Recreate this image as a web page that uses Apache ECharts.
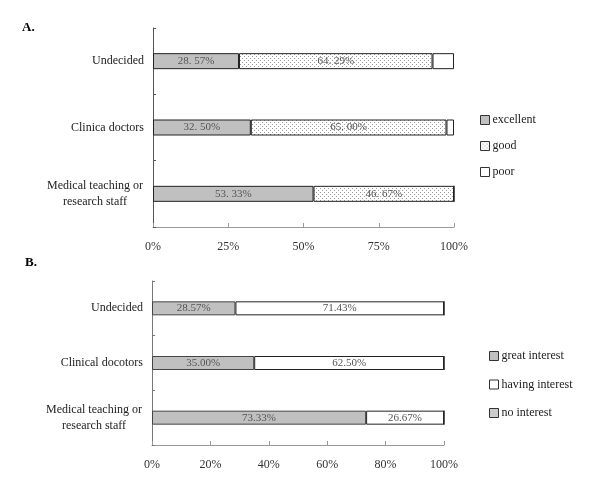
<!DOCTYPE html>
<html><head><meta charset="utf-8">
<script src="https://cdn.jsdelivr.net/npm/echarts@6/dist/echarts.min.js"></script>
<style>html,body{margin:0;padding:0;background:#fff}#c{width:600px;height:488px}</style>
</head><body><div id="c"></div>
<script>
// ---- Data ----
const categoriesA = ['Undecided', 'Clinica doctors', 'Medical teaching or\nresearch staff'];
const excellentA = [28.57, 32.50, 53.33];
const goodA = [64.29, 65.00, 46.67];
const poorA = [7.14, 2.50, 0];
const ticksA = ['0%', '25%', '50%', '75%', '100%'];

const categoriesB = ['Undecided', 'Clinical docotors', 'Medical teaching or\nresearch staff'];
const greatB = [28.57, 35.00, 73.33];
const havingB = [71.43, 65.00, 26.67];   // bar extents as drawn
const havingLabelsB = ['71.43%', '62.50%', '26.67%']; // labels printed in figure
const noneB = [0, 0, 0];
const ticksB = ['0%', '20%', '40%', '60%', '80%', '100%'];

function fmtA(v) { // "28. 57%" style
  const s = v.toFixed(2).split('.');
  return s[0] + '. ' + s[1] + '%';
}
function makePattern(dots, fg, size) {
  const c = document.createElement('canvas');
  c.width = size; c.height = size;
  const g = c.getContext('2d');
  g.fillStyle = '#fff'; g.fillRect(0, 0, size, size);
  g.fillStyle = fg;
  dots.forEach(d => g.fillRect(d[0], d[1], 1, 1));
  return { image: c, repeat: 'repeat' };
}
const goodPattern = makePattern([[0,0],[2,2]], '#9a9a9a', 4);
const nonePattern = makePattern([[0,0],[1,1],[2,0],[0,2],[2,2],[3,1],[1,3],[3,3]], '#9a9a9a', 4);

const FONT = '"Liberation Serif", "Times New Roman", serif';
const catLabel = {
  fontFamily: FONT, fontSize: 12, color: '#222', margin: 9, lineHeight: 16,
  formatter: function (v) {
    if (v.indexOf('\n') >= 0) {
      return v.split('\n').map(l => '{c|' + l + '}').join('\n');
    }
    return v;
  },
  rich: { c: { width: 98, align: 'center', fontFamily: FONT, fontSize: 12, color: '#222', lineHeight: 16 } }
};
const barBorder = { borderColor: '#222', borderWidth: 1 };
const lblStyle = { fontFamily: FONT, fontSize: 11, color: '#555' };
const legendText = { fontFamily: FONT, fontSize: 12, color: '#222', padding: [0, 0, 0, -2] };

const chart = echarts.init(document.getElementById('c'), null, { renderer: 'canvas' });
chart.setOption({
  animation: false,
  backgroundColor: '#fff',
  title: [
    { text: 'A.', left: 17, top: 16, textStyle: { fontFamily: FONT, fontSize: 13, fontWeight: 'bold', color: '#000' } },
    { text: 'B.', left: 20, top: 251, textStyle: { fontFamily: FONT, fontSize: 13, fontWeight: 'bold', color: '#000' } }
  ],
  grid: [
    { left: 153, top: 28, width: 301, height: 199 },
    { left: 152, top: 281, width: 292, height: 164 }
  ],
  legend: [
    { data: ['excellent', 'good', 'poor'], orient: 'vertical', left: 475, top: 109,
      icon: 'rect', itemWidth: 9, itemHeight: 9, itemGap: 14,
      itemStyle: { borderWidth: 1, borderColor: '#333' },
      textStyle: legendText },
    { data: ['great interest', 'having interest', 'no interest'], orient: 'vertical', left: 484, top: 345,
      icon: 'rect', itemWidth: 9, itemHeight: 9, itemGap: 16.5,
      itemStyle: { borderWidth: 1, borderColor: '#333' },
      textStyle: legendText }
  ],
  xAxis: [
    { gridIndex: 0, type: 'value', min: 0, max: 100, interval: 25,
      axisLine: { show: true, lineStyle: { color: '#999' } },
      axisTick: { show: true, inside: true, length: 4, lineStyle: { color: '#999' } },
      splitLine: { show: false },
      axisLabel: { fontFamily: FONT, fontSize: 12, color: '#333', margin: 14,
        formatter: function (v) { return ticksA[Math.round(v / 25)]; } } },
    { gridIndex: 1, type: 'value', min: 0, max: 100, interval: 20,
      axisLine: { show: true, lineStyle: { color: '#999' } },
      axisTick: { show: true, inside: true, length: 4, lineStyle: { color: '#999' } },
      splitLine: { show: false },
      axisLabel: { fontFamily: FONT, fontSize: 12, color: '#333', margin: 14,
        formatter: function (v) { return ticksB[Math.round(v / 20)]; } } }
  ],
  yAxis: [
    { gridIndex: 0, type: 'category', data: categoriesA, inverse: true,
      axisLine: { show: true, lineStyle: { color: '#555' } },
      axisTick: { show: true, inside: true, length: 3, lineStyle: { color: '#555' } },
      axisLabel: catLabel },
    { gridIndex: 1, type: 'category', data: categoriesB, inverse: true,
      axisLine: { show: true, lineStyle: { color: '#777' } },
      axisTick: { show: true, inside: true, length: 3, lineStyle: { color: '#777' } },
      axisLabel: catLabel }
  ],
  series: [
    { name: 'excellent', type: 'bar', stack: 'A', xAxisIndex: 0, yAxisIndex: 0, barWidth: 16,
      data: excellentA, itemStyle: Object.assign({ color: '#c0c0c0' }, barBorder),
      label: Object.assign({ show: true, position: 'inside', formatter: p => p.value > 0 ? fmtA(p.value) : '' }, lblStyle) },
    { name: 'good', type: 'bar', stack: 'A', xAxisIndex: 0, yAxisIndex: 0, barWidth: 16,
      data: goodA, itemStyle: Object.assign({ color: goodPattern }, barBorder),
      label: Object.assign({ show: true, position: 'inside', formatter: p => p.value > 0 ? fmtA(p.value) : '' }, lblStyle) },
    { name: 'poor', type: 'bar', stack: 'A', xAxisIndex: 0, yAxisIndex: 0, barWidth: 16,
      data: poorA, itemStyle: Object.assign({ color: '#fff' }, barBorder) },
    { name: 'great interest', type: 'bar', stack: 'B', xAxisIndex: 1, yAxisIndex: 1, barWidth: 14,
      data: greatB, itemStyle: Object.assign({ color: '#c0c0c0' }, barBorder, { borderColor: '#444' }),
      label: Object.assign({ show: true, position: 'inside', formatter: p => p.value.toFixed(2) + '%' }, lblStyle) },
    { name: 'having interest', type: 'bar', stack: 'B', xAxisIndex: 1, yAxisIndex: 1, barWidth: 14,
      data: havingB, itemStyle: Object.assign({ color: '#fff' }, barBorder),
      label: Object.assign({ show: true, position: 'inside', formatter: p => havingLabelsB[p.dataIndex] }, lblStyle) },
    { name: 'no interest', type: 'bar', stack: 'B', xAxisIndex: 1, yAxisIndex: 1, barWidth: 14,
      data: noneB, itemStyle: Object.assign({ color: nonePattern }, barBorder) }
  ]
});
</script></body></html>
